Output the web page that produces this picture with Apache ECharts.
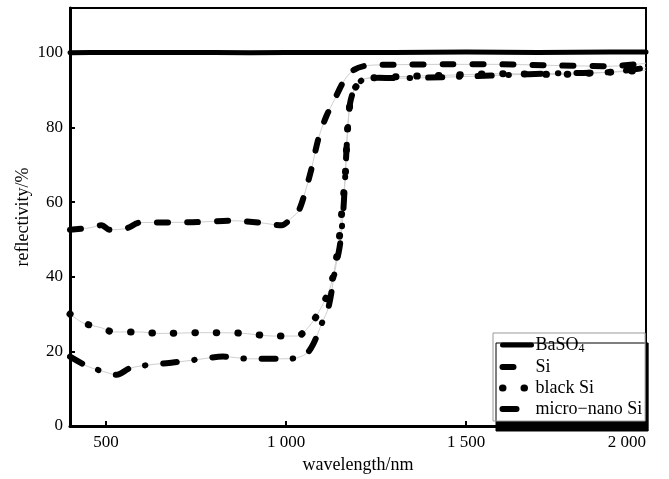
<!DOCTYPE html>
<html>
<head>
<meta charset="utf-8">
<script src="https://cdn.jsdelivr.net/npm/echarts@6/dist/echarts.min.js"></script>
<style>
  html, body { margin: 0; padding: 0; background: #fff; }
  #chart { width: 669px; height: 479px; }
</style>
</head>
<body>
<div id="chart"></div>
<script>
// ------------------------------------------------------------
// data
// ------------------------------------------------------------
var xTicks = [500, 1000, 1500, 2000];
var yTicks = [0, 20, 40, 60, 80, 100];

var basoWl  = [400, 500, 700, 900, 1100, 1300, 1500, 1700, 1900, 2000];
var basoVal = [100.0, 100.1, 100.1, 100.0, 100.1, 100.1, 100.2, 100.1, 100.2, 100.2];

var siWl  = [400, 455, 488, 510, 555, 595, 740, 850, 925, 988, 1015, 1034, 1048, 1071, 1090, 1112, 1135, 1163, 1190, 1227, 1300, 1450, 1600, 1750, 1900, 2000];
var siVal = [52.6, 53.1, 53.8, 52.6, 52.9, 54.5, 54.6, 55.0, 54.5, 53.8, 55.7, 57.5, 61, 69, 77, 83, 87.5, 92.8, 95.5, 96.6, 96.8, 96.9, 96.9, 96.6, 96.4, 97.2];

var blackWl  = [400, 437, 488, 520, 590, 650, 760, 870, 965, 1030, 1070, 1098, 1120, 1134, 1147, 1156, 1164, 1170, 1177, 1190, 1213, 1246, 1310, 1450, 1600, 1750, 1900, 2000];
var blackVal = [30, 27.6, 26.3, 25.2, 25.2, 24.8, 25.0, 24.9, 24.1, 24.1, 27.4, 31.8, 36.3, 41.6, 49.5, 58.4, 66, 78, 85.8, 90.2, 92.8, 93.3, 93.6, 94.0, 94.4, 94.2, 94.8, 95.3];

var microWl  = [400, 451, 493, 530, 567, 622, 686, 761, 825, 900, 969, 1020, 1057, 1076, 1099, 1118, 1136, 1150, 1159, 1164, 1168, 1172, 1178, 1190, 1213, 1246, 1310, 1450, 1600, 1750, 1900, 2000];
var microVal = [18.6, 15.9, 14.6, 13.7, 15.5, 16.4, 17.0, 17.9, 18.6, 18.0, 18.0, 18.1, 19.4, 22, 27.4, 31.8, 41.6, 48.6, 57.5, 66, 74, 80, 86.5, 90.2, 92.8, 93.3, 93.2, 93.5, 94.0, 94.5, 94.8, 96.0];

var names = ['BaSO4', 'Si', 'black Si', 'micro\u2212nano Si'];

// line styles: width + dash pattern per series
var styles = [
    { width: 5, type: 'solid' }
    , { width: 6, type: [11, 19] }
    , { width: 7, type: [0.5, 21] }
    , { width: 6, type: [14, 17, 0.5, 18] }
];

function pairs(xs, ys) {
    return xs.map(function (x, i) { return [x, ys[i]]; });
}

var serif = '"Liberation Serif", "Times New Roman", serif';

function curve(i, xs, ys) {
    return {
        name: names[i]
        , type: 'line'
        , data: pairs(xs, ys)
        , symbol: 'none'
        , smooth: 0.3
        , z: 3
        , color: '#000'
        , lineStyle: { color: '#000', width: styles[i].width, type: styles[i].type, cap: 'round', join: 'round' }
    };
}

function guide(xs, ys) {
    return {
        name: ''
        , type: 'line'
        , data: pairs(xs, ys)
        , symbol: 'none'
        , smooth: 0.3
        , silent: true
        , z: 2
        , lineStyle: { color: '#cfcfcf', width: 1 }
    };
}

var legendData = names.map(function (n, i) {
    return {
        name: n
        , itemStyle: { color: 'rgba(0,0,0,0)', borderWidth: 0 }
        , lineStyle: { color: '#000', width: styles[i].width, type: styles[i].type, cap: 'round' }
    };
});

var chart = echarts.init(document.getElementById('chart'));
var option = {
    animation: false
    , backgroundColor: '#fff'
    , textStyle: { fontFamily: serif }
    , grid: {
        left: 70, right: 23, top: 8, bottom: 49
        , show: true, borderColor: '#000', borderWidth: 2
    }
    , legend: {
        data: legendData
        , orient: 'vertical'
        , left: 493
        , top: 333
        , itemWidth: 29
        , itemHeight: 18
        , itemGap: 3
        , padding: [3, 3, 3, 6]
        , backgroundColor: '#fff'
        , borderColor: '#999'
        , borderWidth: 1
        , shadowColor: '#000'
        , shadowBlur: 0
        , shadowOffsetX: 3
        , shadowOffsetY: 10
        , formatter: function (n) { return n === 'BaSO4' ? 'BaSO{sub|4}' : n; }
        , textStyle: {
            fontFamily: serif, fontSize: 18, color: '#000', padding: [0, 0, 0, -1]
            , rich: { sub: { fontFamily: serif, fontSize: 12, color: '#000', verticalAlign: 'bottom', padding: [8, 0, 0, 0] } }
        }
    }
    , xAxis: {
        type: 'value'
        , min: 400
        , max: 2000
        , name: 'wavelength/nm'
        , nameLocation: 'middle'
        , nameGap: 30
        , nameMoveOverlap: false
        , nameTextStyle: { fontFamily: serif, fontSize: 18, color: '#000' }
        , axisLine: { show: true, onZero: false, lineStyle: { color: '#000', width: 3 } }
        , axisTick: { show: true, inside: true, length: 5, customValues: xTicks, lineStyle: { color: '#000', width: 2 } }
        , axisLabel: {
            customValues: xTicks
            , margin: 8
            , fontFamily: serif, fontSize: 17, color: '#000'
            , alignMaxLabel: 'right'
            , formatter: function (v) { return v >= 1000 ? String(v).replace(/(\d)(\d{3})$/, '$1 $2') : String(v); }
        }
        , splitLine: { show: false }
    }
    , yAxis: {
        type: 'value'
        , min: 0
        , max: 112
        , name: 'reflectivity/%'
        , nameLocation: 'middle'
        , nameGap: 38
        , nameMoveOverlap: false
        , nameTextStyle: { fontFamily: serif, fontSize: 18, color: '#000' }
        , axisLine: { show: true, lineStyle: { color: '#000', width: 3 } }
        , axisTick: { show: true, inside: true, length: 5, customValues: yTicks, lineStyle: { color: '#000', width: 2 } }
        , axisLabel: { customValues: yTicks, margin: 7, fontFamily: serif, fontSize: 17, color: '#000' }
        , splitLine: { show: false }
    }
    , series: [
        guide(siWl, siVal)
        , guide(blackWl, blackVal)
        , guide(microWl, microVal)
        , curve(0, basoWl, basoVal)
        , curve(1, siWl, siVal)
        , curve(2, blackWl, blackVal)
        , curve(3, microWl, microVal)
    ]
};
chart.setOption(option, true);
</script>
</body>
</html>
